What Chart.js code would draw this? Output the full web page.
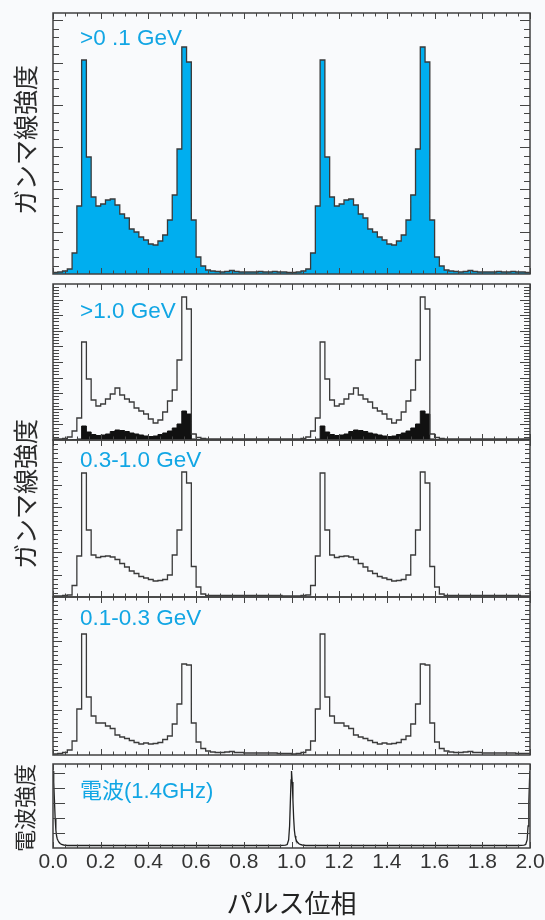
<!DOCTYPE html>
<html lang="ja">
<head>
<meta charset="utf-8">
<script src="https://cdn.jsdelivr.net/npm/chart.js@4.4.1/dist/chart.umd.min.js"></script>
<style>
  html, body { margin: 0; padding: 0; background: #f9fafc; }
  #wrap { position: relative; width: 545px; height: 920px; overflow: hidden; }
  canvas { position: absolute; left: 0; }
</style>
</head>
<body>
<div id="wrap">
  <canvas id="p1"></canvas>
  <canvas id="p2"></canvas>
  <canvas id="p3"></canvas>
  <canvas id="p4"></canvas>
  <canvas id="p5"></canvas>
</div>
<script>
// one pulse cycle = 50 bins of 0.02 in phase, plotted twice (0 - 2)
const binWidth = 0.02;
const cycles = 2;

// > 0.1 GeV (blue)
const gammaAll = [1.5, 2, 3, 5, 21, 68, 214, 117, 77, 68,
  70, 74, 75, 69, 60, 56, 45, 42, 37, 34,
  30, 29, 33, 39, 54, 79, 125, 227, 212, 54,
  17, 8, 4, 3, 2.5, 2, 2.5, 3.5, 2.5, 2,
  2, 2, 2, 2.5, 2, 2, 2.5, 2, 2, 1.5];

// > 1.0 GeV (outline) and the black part inside it
const gammaHigh = [1, 1, 1.5, 3, 9, 22, 98, 61, 40, 34,
  36, 41, 46, 52, 45, 41, 38, 32, 29, 26,
  21, 17, 20, 28, 39, 50, 80, 143, 131, 6,
  2.5, 1.5, 1, 1, 1, 1, 1, 1, 1, 1,
  1, 1, 1, 1, 1, 1, 1, 1, 1, 1];
const gammaHighCore = [0, 0, 0, 0, 0.5, 1, 14, 8, 5.5, 4.5,
  5, 6, 8.5, 10, 9.5, 8.5, 7, 6, 5, 4,
  3.5, 4, 5.5, 7, 9, 12, 16, 29, 26, 1,
  0.5, 0, 0, 0, 0, 0, 0, 0, 0, 0,
  0, 0, 0, 0, 0, 0, 0, 0, 0, 0];

// 0.3 - 1.0 GeV
const gammaMid = [1, 1, 1.5, 2, 11.5, 41, 124, 67, 42, 39.5,
  40.5, 41, 40, 37.5, 33.5, 30, 26, 23.5, 20.5, 19,
  17.5, 16, 16.5, 17.5, 22, 42, 67, 125, 114, 30.5,
  10, 3, 1.5, 1.5, 1.5, 1.5, 1.5, 1.5, 1.5, 1.5,
  1.5, 1.5, 1.5, 1.5, 1.5, 1.5, 1.5, 1.5, 1, 1];

// 0.1 - 0.3 GeV
const gammaLow = [1, 1.5, 2.5, 5, 14, 46, 121, 58, 39, 32,
  32, 29, 26.5, 20, 18, 16.5, 14.5, 12.5, 11, 12,
  11, 11.5, 12.5, 15.5, 19, 31, 51, 91, 90, 32,
  13, 6.5, 4, 3, 2.5, 2.5, 3, 3.5, 2.5, 2.5,
  2, 2, 2, 2, 2, 2, 2, 1.5, 1.5, 1.5];

// radio 1.4 GHz profile over one cycle
const radioPhase = [0, 0.003, 0.006, 0.009, 0.012, 0.015, 0.018, 0.022, 0.026, 0.03,
  0.036, 0.045, 0.06, 0.2, 0.4, 0.6, 0.8, 0.95, 0.975, 0.982,
  0.988, 0.992, 0.995, 0.998];
const radioLevel = [77, 66, 48, 30, 18, 12, 9, 7, 5.5, 4.5,
  3.5, 3, 2.5, 2.5, 2.5, 2.5, 2.5, 2.5, 2.8, 3.5,
  8, 22, 45, 68];

const xTickLabels = ['0.0', '0.2', '0.4', '0.6', '0.8', '1.0', '1.2', '1.4', '1.6', '1.8', '2.0'];

const lineColor = '#3a3a3a';
const cyan = '#00aeef';
const jpFont = "'Noto Sans CJK JP', 'Noto Sans', sans-serif";
const latinFont = "'Liberation Sans', Arial, sans-serif";

Chart.defaults.font.family = latinFont;

function histPoints(values) {
  let pts = [];
  for (let c = 0; c < cycles; c++) {
    for (let i = 0; i < values.length; i++) {
      pts.push({x: c + i * binWidth, y: values[i]});
    }
  }
  pts.push({x: cycles, y: values[values.length - 1]});
  return pts;
}

function radioPoints() {
  let pts = [];
  for (let c = 0; c < cycles; c++) {
    for (let i = 0; i < radioPhase.length; i++) {
      pts.push({x: c + radioPhase[i], y: radioLevel[i]});
    }
  }
  pts.push({x: cycles, y: radioLevel[0]});
  return pts;
}

// box round the plot area with inward ticks on all four sides
const frameTicks = {
  id: 'frameTicks',
  afterDatasetsDraw(chart, args, opts) {
    const {ctx, chartArea: a, scales: {x, y}} = chart;
    ctx.save();
    ctx.strokeStyle = '#444';
    ctx.lineWidth = 1;
    ctx.beginPath();
    for (let k = 0; k <= 40; k++) {
      const px = Math.round(x.getPixelForValue(k * 0.05)) + 0.5;
      const len = k % 4 === 0 ? 6 : 3.5;
      ctx.moveTo(px, a.top); ctx.lineTo(px, a.top + len);
      ctx.moveTo(px, a.bottom); ctx.lineTo(px, a.bottom - len);
    }
    for (let k = 1; ; k++) {
      const v = k * opts.yStep / opts.ySub;
      if (v >= y.max) break;
      const py = Math.round(y.getPixelForValue(v)) + 0.5;
      const len = k % opts.ySub === 0 ? opts.majorLen : opts.minorLen;
      ctx.moveTo(a.left, py); ctx.lineTo(a.left + len, py);
      ctx.moveTo(a.right, py); ctx.lineTo(a.right - len, py);
    }
    ctx.stroke();
    ctx.lineWidth = 1.5;
    ctx.strokeStyle = '#404040';
    ctx.strokeRect(a.left, a.top, a.right - a.left, a.bottom - a.top);
    ctx.restore();
  }
};

const textItems = {
  id: 'textItems',
  afterDraw(chart, args, opts) {
    const ctx = chart.ctx;
    for (const t of opts.items || []) {
      ctx.save();
      ctx.font = t.font;
      ctx.fillStyle = t.color;
      ctx.textAlign = t.align || 'left';
      ctx.textBaseline = t.baseline || 'alphabetic';
      ctx.translate(t.x, t.y - opts.canvasTop);
      if (t.rotate) ctx.rotate(t.rotate);
      ctx.fillText(t.text, 0, 0);
      ctx.restore();
    }
  }
};

function bandLabel(text, y) {
  return {text: text, x: 80, y: y, font: '22.5px ' + latinFont, color: '#12a6e4'};
}
function sideTitle(text, y, size) {
  return {text: text, x: 25, y: y, font: size + 'px ' + jpFont, color: '#2a2a2a',
    align: 'center', baseline: 'middle', rotate: -Math.PI / 2};
}

function makePanel(spec) {
  const cv = document.getElementById(spec.id);
  cv.width = 545;
  cv.height = spec.canvasHeight;
  cv.style.top = spec.canvasTop + 'px';
  return new Chart(cv, {
    type: 'line',
    data: {datasets: spec.datasets},
    options: {
      responsive: false,
      animation: false,
      events: [],
      layout: {padding: {left: 53, right: 15, top: spec.padTop, bottom: spec.padBottom}},
      elements: {point: {radius: 0}, line: {borderWidth: 1.3, borderColor: lineColor}},
      plugins: {
        legend: {display: false},
        tooltip: {enabled: false},
        frameTicks: spec.ticks,
        textItems: {canvasTop: spec.canvasTop, items: spec.texts}
      },
      scales: {
        x: spec.x || {type: 'linear', display: false, min: 0, max: cycles},
        y: {type: 'linear', display: false, min: 0, max: spec.yMax}
      }
    },
    plugins: [frameTicks, textItems]
  });
}

makePanel({
  id: 'p1', canvasTop: 9, canvasHeight: 269, padTop: 4, padBottom: 4, yMax: 261,
  ticks: {yStep: 42.3, ySub: 5, majorLen: 10, minorLen: 6},
  texts: [bandLabel('>0 .1 GeV', 45), sideTitle('ガンマ線強度', 140, 25)],
  datasets: [{
    data: histPoints(gammaAll), stepped: 'before', fill: 'origin',
    backgroundColor: cyan, borderColor: lineColor
  }]
});

makePanel({
  id: 'p2', canvasTop: 280, canvasHeight: 164, padTop: 4, padBottom: 4, yMax: 156,
  ticks: {yStep: 15.6, ySub: 5, majorLen: 10, minorLen: 6},
  texts: [bandLabel('>1.0 GeV', 318)],
  datasets: [{
    data: histPoints(gammaHigh), stepped: 'before', fill: false, borderColor: lineColor
  }, {
    data: histPoints(gammaHighCore), stepped: 'before', fill: 'origin',
    backgroundColor: '#111', borderColor: '#111', borderWidth: 1
  }]
});

makePanel({
  id: 'p3', canvasTop: 400, canvasHeight: 201, padTop: 40, padBottom: 4, yMax: 157,
  ticks: {yStep: 22.5, ySub: 5, majorLen: 9, minorLen: 5},
  texts: [bandLabel('0.3-1.0 GeV', 467), sideTitle('ガンマ線強度', 494, 25)],
  datasets: [{
    data: histPoints(gammaMid), stepped: 'before', fill: false, borderColor: lineColor
  }]
});

makePanel({
  id: 'p4', canvasTop: 593, canvasHeight: 166, padTop: 4, padBottom: 4, yMax: 158,
  ticks: {yStep: 22.7, ySub: 5, majorLen: 9, minorLen: 5},
  texts: [bandLabel('0.1-0.3 GeV', 625)],
  datasets: [{
    data: histPoints(gammaLow), stepped: 'before', fill: false, borderColor: lineColor
  }]
});

makePanel({
  id: 'p5', canvasTop: 760, canvasHeight: 160, padTop: 4, padBottom: 0, yMax: 84,
  ticks: {yStep: 15, ySub: 1, majorLen: 12, minorLen: 12},
  texts: [
    {text: '電波(1.4GHz)', x: 80, y: 798, font: '22px ' + latinFont + ', ' + jpFont, color: '#12a6e4'},
    sideTitle('電波強度', 808, 22)
  ],
  datasets: [{
    data: radioPoints(), fill: false, tension: 0, borderColor: '#222', borderWidth: 1.3
  }],
  x: {
    type: 'linear', min: 0, max: cycles, position: 'bottom',
    grid: {display: false, drawTicks: false},
    border: {display: false},
    afterBuildTicks(scale) {
      scale.ticks = xTickLabels.map(l => ({value: parseFloat(l)}));
    },
    afterFit(scale) {
      scale.height = 72;
      scale.paddingLeft = 0;
      scale.paddingRight = 0;
    },
    ticks: {
      autoSkip: false, maxRotation: 0, padding: 2, color: '#333',
      font: {size: 21, family: latinFont},
      callback: (v, i) => xTickLabels[i]
    },
    title: {
      display: true, text: 'パルス位相', color: '#222',
      font: {size: 26, family: jpFont}, padding: {top: 0, bottom: 1}
    }
  }
});
</script>
</body>
</html>
